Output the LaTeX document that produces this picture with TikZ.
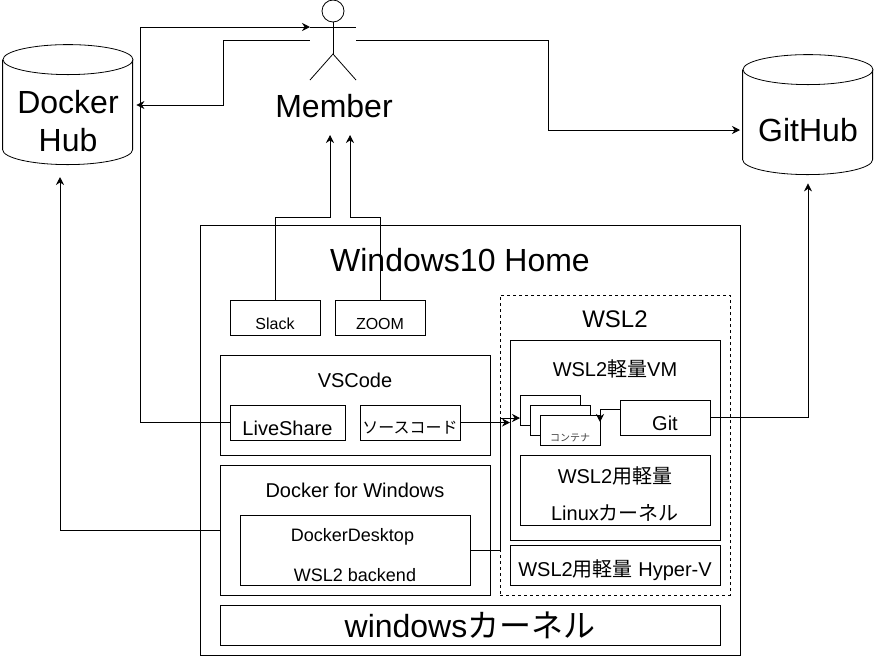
\documentclass[tikz,border=0pt]{standalone}
\usepackage{fontspec}
\setmainfont{Liberation Sans}
\newfontfamily\jpfont{Noto Sans CJK JP}
\usetikzlibrary{shapes.geometric, arrows.meta, positioning}

\tikzset{
    box/.style={draw, rectangle, inner sep=0pt},
    dbase/.style={rectangle, minimum width=130pt, minimum height=120pt, inner sep=0pt},
    conn/.style={-{Stealth[length=8pt,width=8pt]}},
    huge/.style={font=\fontsize{32}{38}\selectfont},
    mid/.style={font=\fontsize{20}{24}\selectfont},
    low/.style={font=\fontsize{18}{22}\selectfont},
    tiny/.style={font=\fontsize{16}{20}\selectfont}
}

\begin{document}
\begin{tikzpicture}[x=1pt, y=-1pt, line width=0.8pt]
    \useasboundingbox (0,0) rectangle (877,657);

    % Databases
    \node[dbase] (dockerhub) at (68,105) {};
    \node[huge, align=center] (dockerhublabel) at (68,121) {Docker\\Hub};
    \node[dbase] (github) at (808,115) {};
    \node[huge] (githublabel) at (808,130) {GitHub};
    \coordinate (githubin) at (740,130);
    \coordinate (dockerhubin) at (60,177);
    \foreach \db in {dockerhub, github} {
        \draw (\db.north) ++(0,15) ellipse [x radius=65pt, y radius=15pt];
        \draw (\db.north west) ++(0,15) -- ++(0,90) arc [start angle=180, end angle=360, x radius=65pt, y radius=15pt] -- ++(0,-90);
    }

    % Member
    \node[minimum width=46pt, minimum height=80pt, inner sep=0pt] (member) at (333,40) {};
    \coordinate (memberarm) at (310,27);
    \draw (333,11) circle (11);
    \draw (333,22) -- (333,54) (310,27) -- (356,27);
    \draw (310,80) -- (333,54) -- (356,80);
    \node[huge] (memberlabel) at (334,106) {Member};
    \coordinate (memberin1) at (330,135);
    \coordinate (memberin2) at (350,135);

    % Windows
    \node[box, minimum width=540pt, minimum height=430pt] (windows) at (470,440) {};
    \node[huge] (windowslabel) at (460,260) {Windows10 Home};
    \node[box, minimum width=90pt, minimum height=35pt] (slack) at (275,317.5) {};
    \node[tiny] (slacklabel) at (275,324) {Slack};
    \node[box, minimum width=90pt, minimum height=35pt] (zoom) at (380,317.5) {};
    \node[tiny] (zoomlabel) at (380,324) {ZOOM};
    \node[box, minimum width=500pt, minimum height=40pt] (kernel) at (470,625) {};
    \node[huge] (kernellabel) at (470,625) {windows{\jpfont カーネル}};

    % VSCode
    \node[box, minimum width=270pt, minimum height=100pt] (vscode) at (355,405) {};
    \node[mid] (vscodelabel) at (355,380) {VSCode};
    \node[box, minimum width=115pt, minimum height=35pt] (liveshare) at (287.5,422.5) {};
    \node[mid] (livesharelabel) at (287.5,428) {LiveShare};
    \node[box, minimum width=100pt, minimum height=35pt] (source) at (410,422.5) {};
    \node[tiny] (sourcelabel) at (410,428) {\jpfont ソースコード};

    % Docker for Windows
    \node[box, minimum width=270pt, minimum height=130pt] (docker) at (355,530) {};
    \node[mid] (dockerlabel) at (355,490) {Docker for Windows};
    \node[box, minimum width=230pt, minimum height=70pt] (desktop) at (355,550) {};
    \node[low] (desktoplabel1) at (352.5,537) {DockerDesktop};
    \node[low] (desktoplabel2) at (355,575) {WSL2 backend};

    % WSL2
    \node[box, dashed, minimum width=230pt, minimum height=300pt] (wsl) at (615,445) {};
    \node[font=\fontsize{24}{28}\selectfont] (wsllabel) at (615,319) {WSL2};
    \node[box, minimum width=210pt, minimum height=200pt] (vm) at (615,440) {};
    \node[mid] (vmlabel) at (615,369) {WSL2{\jpfont 軽量}VM};
    \node[box, minimum width=60pt, minimum height=30pt] (container1) at (550,410) {};
    \node[box, fill=white, minimum width=60pt, minimum height=30pt] (container2) at (560,420) {};
    \node[box, fill=white, minimum width=60pt, minimum height=30pt] (container3) at (570,430) {};
    \node[font=\fontsize{10}{12}\selectfont\jpfont, text=black!75] (containerlabel) at (570,438) {コンテナ};
    \node[box, minimum width=90pt, minimum height=35pt] (git) at (665,417.5) {};
    \node[mid] (gitlabel) at (665,423) {Git};
    \coordinate (gitout) at (620,409);
    \node[box, minimum width=190pt, minimum height=70pt] (linux) at (615,490) {};
    \node[mid] (linuxlabel1) at (615,476) {WSL2{\jpfont 用軽量}};
    \node[mid] (linuxlabel2) at (615,513) {Linux{\jpfont カーネル}};
    \node[box, minimum width=210pt, minimum height=40pt] (hyperv) at (615,565) {};
    \node[mid] (hypervlabel) at (615,570) {WSL2{\jpfont 用軽量} Hyper-V};

    % Connectors
    \draw[conn] (member.east) -- (548,40) -- (548,130) -- (githubin);
    \draw[conn, shorten >=3pt] (member.west) -- (223,40) -- (223,105) -- (dockerhub.east);
    \draw[conn] (liveshare.west) -- (140,422.5) -- (140,27) -- (memberarm);
    \draw[conn] (slack.north) -- (275,217) -- (330,217) -- (memberin1);
    \draw[conn] (zoom.north) -- (380,217) -- (350,217) -- (memberin2);
    \draw[conn] (source.east) -- (510,422.5);
    \draw[conn] (desktop.east) -- (500,550) -- (500,418) -- (520,418);
    \draw[conn] (gitout) -- (600,409) -- (600,422);
    \draw[conn, shorten >=8pt] (git.east) -- (808,417.5) -- (github.south);
    \draw[conn] (docker.west) -- (60,530) -- (dockerhubin);
\end{tikzpicture}
\end{document}
